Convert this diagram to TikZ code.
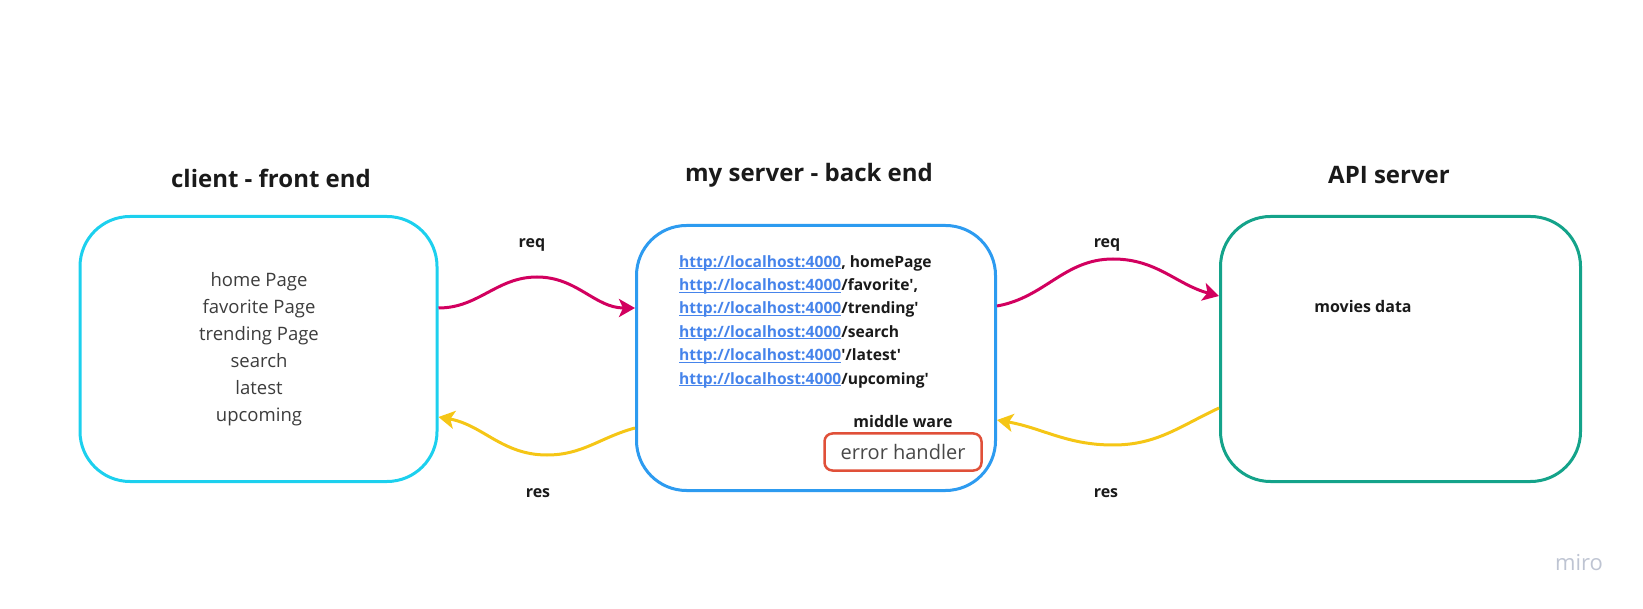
\documentclass[tikz,border=0pt]{standalone}
\usepackage{fontspec}
\newfontfamily\osans{Open Sans}
\usetikzlibrary{calc,positioning,arrows.meta}

\definecolor{ink}{RGB}{26,26,26}
\definecolor{clientcyan}{RGB}{28,208,238}
\definecolor{serverblue}{RGB}{45,155,240}
\definecolor{apiteal}{RGB}{20,163,138}
\definecolor{reqred}{RGB}{210,0,95}
\definecolor{resyellow}{RGB}{245,198,22}
\definecolor{errred}{RGB}{224,80,57}
\definecolor{linkblue}{RGB}{70,132,235}
\definecolor{mirogray}{RGB}{190,196,210}

\newcommand{\lhost}{{\color{linkblue}\underline{\smash{http://localhost:4000}}}}

\begin{document}
\begin{tikzpicture}[x=1pt,y=1pt,
    panel/.style={draw=#1,line width=3pt,rounded corners=50pt,
        minimum width=357pt,minimum height=265pt,inner sep=0pt},
    heading/.style={font=\osans\bfseries\fontsize{24}{29}\selectfont,text=ink},
    small/.style={font=\osans\bfseries\fontsize{16}{20}\selectfont,text=ink},
    flow/.style={line width=3pt,-{Stealth[length=16pt,width=18pt,inset=4pt]}}
]
\useasboundingbox (0,0) rectangle (1643,608);

% the three parts
\node[panel=clientcyan] (client) at (258.5,259) {};
\node[panel=serverblue,minimum width=359pt] (srv) at (816,250) {};
\node[panel=apiteal,minimum width=360pt] (api) at (1400.5,259) {};

\node[heading] (clientttl) at (271,430) {client - front end};
\node[heading] (srvttl) at (809,433) {my server - back end};
\node[heading] (apittl) at (1389,433) {API server};

% contents
\node[font=\osans\fontsize{18.5}{27}\selectfont,text=ink!85,align=center,inner sep=0pt]
    (pages) at (259,259) {home Page\\ favorite Page\\ trending Page\\ search\\ latest\\ upcoming};
\node[font=\osans\bfseries\fontsize{15.6}{23.4}\selectfont,text=ink,align=left,inner sep=0pt,anchor=west]
    (routes) at (679,286.5) {\lhost, homePage\\ \lhost/favorite',\\ \lhost/trending'\\
    \lhost/search\\ \lhost'/latest'\\ \lhost/upcoming'};
\node[small] (mware) at (903,186) {middle ware};
\node[draw=errred,line width=2.5pt,rounded corners=8pt,minimum width=157pt,minimum height=37pt,
    inner sep=0pt,font=\osans\fontsize{20}{24}\selectfont,text=ink!80] (errh) at (903,156) {error handler};
\node[small] (movies) at (1363,301) {movies data};

% requests and responses
\draw[flow,reqred] ([yshift=41pt]client.east) to[out=0,in=180] (537,331)
    to[out=0,in=180] ([yshift=50pt]srv.west);
\draw[flow,resyellow] ([yshift=-70pt]srv.west) to[out=195,in=0] (547,153)
    to[out=180,in=-10] ([yshift=-68pt]client.east);
\draw[flow,reqred] ([yshift=52pt]srv.east) to[out=10,in=180] (1113,349)
    to[out=0,in=165] ([yshift=53pt]api.west);
\draw[flow,resyellow] ([yshift=-59pt]api.west) to[out=205,in=0] (1113,163)
    to[out=180,in=-10] ([yshift=-62pt]srv.east);

\node[small] (reqA) at (532,363) {req};
\node[small] (reqB) at (1107,363) {req};
\node[small] (resA) at (538,115) {res};
\node[small] (resB) at (1106,115) {res};

\node[font=\osans\fontsize{22}{26}\selectfont,text=mirogray] (miro) at (1579,45) {miro};
\end{tikzpicture}
\end{document}
